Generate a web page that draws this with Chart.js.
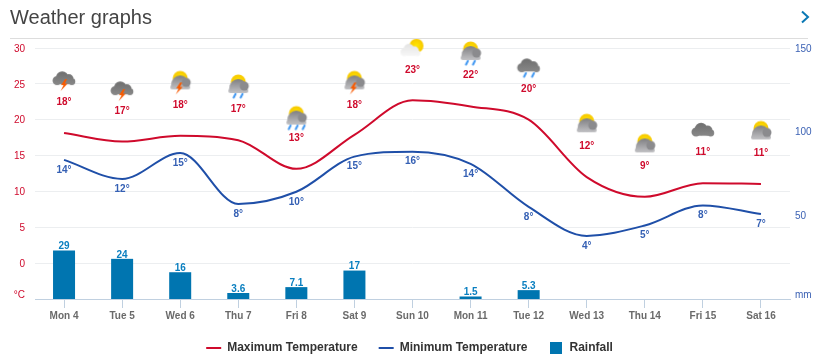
<!DOCTYPE html>
<html><head><meta charset="utf-8">
<script src="https://cdn.jsdelivr.net/npm/chart.js@4/dist/chart.umd.js"></script>
<style>
html,body{margin:0;padding:0;background:#fff;overflow:hidden}
#wrap{position:relative;width:821px;height:362px}
#title{position:absolute;left:10px;top:5px;font:20px/24px "Liberation Sans",Arial,sans-serif;color:#444}
#rule{position:absolute;left:10px;top:38px;width:798px;height:1px;background:#ddd}
#chev{position:absolute;left:799px;top:9px}
canvas{position:absolute;left:0;top:0}
</style></head><body>
<div id="wrap">
<canvas id="c" width="821" height="362"></canvas>
<div id="title">Weather graphs</div><div id="rule"></div>
<svg id="chev" width="12" height="16"><path d="M3 2.5 L9 8 L3 13.5" fill="none" stroke="#0a78b4" stroke-width="2"/></svg>
</div>
<script>
const days = ['Mon 4','Tue 5','Wed 6','Thu 7','Fri 8','Sat 9','Sun 10','Mon 11','Tue 12','Wed 13','Thu 14','Fri 15','Sat 16'];
const maxTemp = [18.15,16.95,17.75,17.15,13.15,17.9,22.7,21.85,20,12,9.25,11.15,11.05];
const minTemp = [14.4,11.75,15.35,8.25,9.95,14.85,15.55,13.85,7.85,3.8,5.25,8.05,6.85];
const rainfall = [29,24,16,3.6,7.1,17,null,1.5,5.3,null,null,null,null];
const maxLabels = [18,17,18,17,13,18,23,22,20,12,9,11,11];
const minLabels = [14,12,15,8,10,15,16,14,8,4,5,8,7];
const labelLevels = [22.45,21.25,22.05,21.45,17.45,22.05,26.85,26.25,24.25,16.35,13.55,15.45,15.35];
const iconLevels = [25.8,24.4,25.2,24.7,20.3,25.2,29.9,29.3,27.6,19.5,16.7,18.7,18.5];
const iconKinds = ['storm','storm','sunstorm','sunrain2','sunrain3','sunstorm','suncloud','sunrain2','darkrain2','sunplain','sunplain','dark','sunplain'];
const tempTicksUnit = '°C', rainUnit = 'mm';

const RED='#cf0a2c', BLUE='#1f4fa8', BAR='#0075b0', AX='#c0d0e0', GRID='#eceef0';
const FF='"Liberation Sans",Arial,sans-serif';

function blob(g,cx,cy,col1,col2,w){
  const x=g.createLinearGradient(0,cy-8,0,cy+7);x.addColorStop(0,col1);x.addColorStop(1,col2);
  g.fillStyle=x;g.beginPath();
  g.arc(cx-w*0.30,cy+1.5,w*0.20,0,7);g.closePath();
  g.arc(cx-w*0.08,cy-1.5,w*0.27,0,7);g.closePath();
  g.arc(cx+w*0.20,cy,w*0.22,0,7);g.closePath();
  g.arc(cx+w*0.34,cy+2.5,w*0.15,0,7);g.closePath();
  g.fill();
  g.fillRect(cx-w*0.38,cy+1,w*0.76,4.2);
}
function dome(g){
  const x=g.createLinearGradient(0,8,0,22);x.addColorStop(0,'#7f7f82');x.addColorStop(1,'#c2c2c5');
  g.fillStyle=x;g.beginPath();
  g.arc(15,17,9,Math.PI,0);g.lineTo(25,20);g.quadraticCurveTo(25,22,23,22);
  g.lineTo(7,22);g.quadraticCurveTo(5,22,5,20);g.closePath();g.fill();
  g.fillStyle='#8b8b8e';g.beginPath();g.arc(21,15,4.5,0,7);g.fill();
}
function sun(g,cx,cy,r){
  const x=g.createRadialGradient(cx,cy,1,cx,cy,r);x.addColorStop(0,'#ffe300');x.addColorStop(1,'#f7c800');
  g.fillStyle=x;g.beginPath();g.arc(cx,cy,r,0,7);g.fill();
}
function bolt(g,cx,cy){
  g.fillStyle='#f85a00';g.beginPath();
  g.moveTo(cx+1,cy-5);g.lineTo(cx-3,cy+1);g.lineTo(cx-.5,cy+1);g.lineTo(cx-3.5,cy+7);
  g.lineTo(cx+3.5,cy-.5);g.lineTo(cx+.8,cy-.5);g.lineTo(cx+3,cy-5);g.closePath();g.fill();
}
function drops(g,xs,y){
  g.strokeStyle='#3f97f2';g.lineWidth=2;g.lineCap='round';
  xs.forEach(x=>{g.beginPath();g.moveTo(x+1.2,y);g.lineTo(x-.6,y+3.5);g.stroke();});
}
function icon(kind){
  const c=document.createElement('canvas');c.width=30;c.height=30;const g=c.getContext('2d');
  if(kind==='storm'||kind==='dark'||kind==='darkrain2'){
    g.translate(0,kind==='dark'?1.5:3);
    blob(g,15,kind==='dark'?15:13,'#6e6e6e','#8b8b8b',23);
    if(kind==='storm')bolt(g,15,18);
    if(kind==='darkrain2')drops(g,[11,19],20);
  } else if(kind==='suncloud'){
    g.translate(0,1);
    sun(g,19,11,7);blob(g,13,16,'#e2e2e2','#fafafa',20);
  } else {
    g.translate(0,kind==='sunplain'?2:0);
    sun(g,15,11,7.5);dome(g);
    if(kind==='sunstorm')bolt(g,14,20);
    if(kind==='sunrain2')drops(g,[11,18],23);
    if(kind==='sunrain3')drops(g,[8,15,22],23);
  }
  return c;
}
const iconImages = iconKinds.map(icon);

const labelPlugin = {
  id:'valueLabels',
  afterDatasetsDraw(ch){
    const g=ch.ctx,x=ch.scales.x,y=ch.scales.y,r=ch.scales.yR;
    g.save();g.textAlign='center';g.textBaseline='middle';g.font='bold 10px '+FF;
    days.forEach((d,i)=>{
      const px=x.getPixelForValue(i);
      g.fillStyle=RED;g.fillText(maxLabels[i]+'°',px,y.getPixelForValue(labelLevels[i]));
      g.fillStyle='#3560b4';g.fillText(minLabels[i]+'°',px,y.getPixelForValue(minTemp[i])+10);
      if(rainfall[i]!==null){g.fillStyle='#0a7fc0';g.fillText(String(rainfall[i]),px,r.getPixelForValue(rainfall[i])-4);}
    });
    g.restore();
  }
};
const legendShift = {id:'legendShift',afterLayout(ch){ch.legend.top+=2;ch.legend.bottom+=2;ch.legend.left-=1;ch.legend.right-=1;}};

const square=document.createElement('canvas');square.width=12;square.height=12;
const sq=square.getContext('2d');sq.fillStyle=BAR;sq.fillRect(0,0,12,12);

new Chart(document.getElementById('c'),{
  data:{labels:days,datasets:[
    {type:'line',label:'Maximum Temperature',data:maxTemp,borderColor:RED,backgroundColor:RED,borderWidth:2,pointRadius:0,cubicInterpolationMode:'monotone',yAxisID:'y',order:1},
    {type:'line',label:'Minimum Temperature',data:minTemp,borderColor:BLUE,backgroundColor:BLUE,borderWidth:2,pointRadius:0,cubicInterpolationMode:'monotone',yAxisID:'y',order:2},
    {type:'bar',label:'Rainfall',data:rainfall,backgroundColor:BAR,barPercentage:0.379,categoryPercentage:1,yAxisID:'yR',order:3},
    {type:'line',label:'Weather',data:iconLevels,showLine:false,pointStyle:iconImages,pointRadius:10,yAxisID:'y',order:0,clip:false}
  ]},
  options:{
    responsive:false,animation:false,events:[],
    layout:{padding:{top:48,left:0,right:0,bottom:0}},
    plugins:{
      tooltip:{enabled:false},
      title:{display:false},
      legend:{position:'bottom',
        labels:{
          color:'#333',font:{family:FF,size:12,weight:'bold'},boxWidth:15,boxHeight:12,padding:21,usePointStyle:true,pointStyleWidth:15,
          filter:it=>it.text!=='Weather',
          generateLabels(ch){
            const base=Chart.defaults.plugins.legend.labels.generateLabels(ch);
            base.forEach(it=>{
              it.lineWidth=2;
              if(it.text==='Rainfall'){it.pointStyle=square;}
              else{it.pointStyle='line';it.strokeStyle=it.text.startsWith('Max')?RED:BLUE;}
            });
            return base;
          }
        }}
    },
    scales:{
      x:{offset:true,
        grid:{offset:false,drawOnChartArea:false,drawTicks:true,tickLength:9,tickColor:AX},
        border:{color:AX,width:1},
        ticks:{color:'#6a6a6a',font:{family:FF,size:10,weight:'bold'},padding:2,maxRotation:0,autoSkip:false},
        afterFit(s){s.height=20;}
      },
      y:{position:'left',min:-5,max:30,
        grid:{color:GRID,drawTicks:false},border:{display:false},
        ticks:{stepSize:5,color:RED,font:{family:FF,size:10,lineHeight:.9},padding:10,labelOffset:1,
          callback:v=>v===-5?[tempTicksUnit,'']:String(v)},
        afterFit(s){s.width=35;}
      },
      yR:{position:'right',min:0,max:150,
        grid:{display:false,drawTicks:false},border:{display:false},
        ticks:{stepSize:50,color:'#3c62b4',font:{family:FF,size:10,lineHeight:.9},padding:5,labelOffset:1,
          callback:v=>v===0?[rainUnit,'']:String(v)},
        afterFit(s){s.width=31;}
      }
    }
  },
  plugins:[labelPlugin,legendShift]
});
</script></body></html>
